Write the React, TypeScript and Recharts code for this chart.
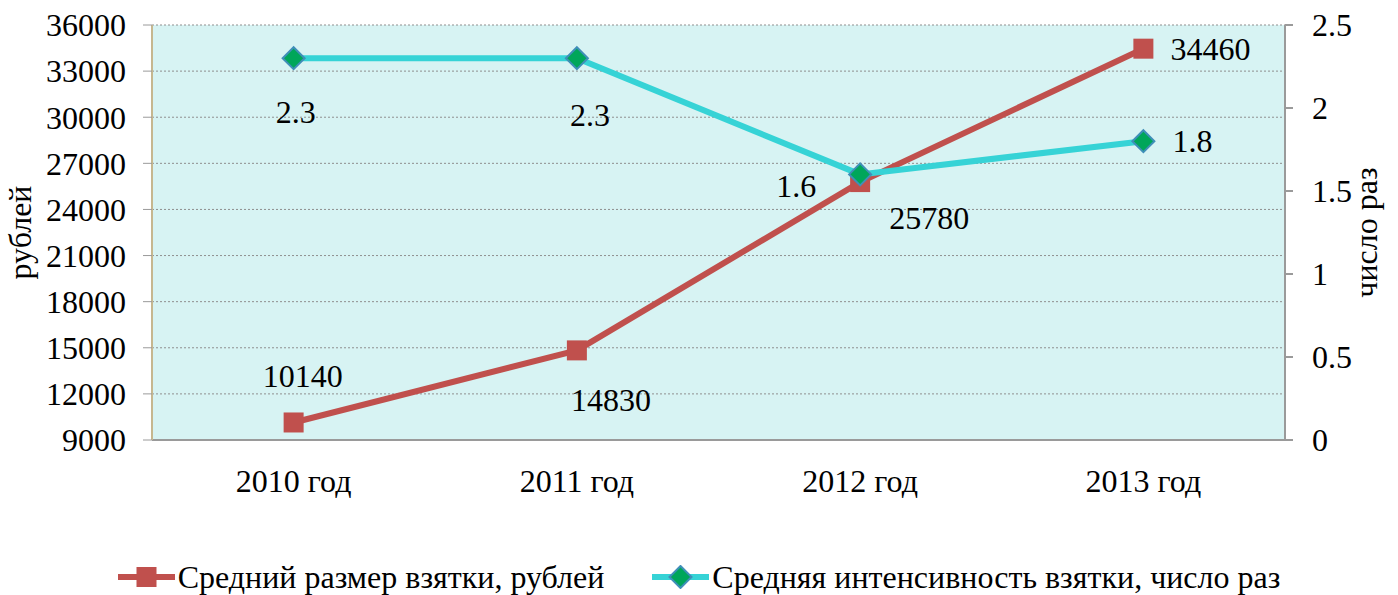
import React from 'react';
import { ComposedChart, Line, XAxis, YAxis, CartesianGrid, Legend, LabelList } from 'recharts';

const years = ['2010 год', '2011 год', '2012 год', '2013 год'];
const bribeSize = [10140, 14830, 25780, 34460];
const bribeIntensity = [2.3, 2.3, 1.6, 1.8];
const leftTicks = [9000, 12000, 15000, 18000, 21000, 24000, 27000, 30000, 33000, 36000];
const rightTicks = [0, 0.5, 1, 1.5, 2, 2.5];
const boundTicks = [0, 1, 2, 3, 4];
const seriesNames = ['Средний размер взятки, рублей', 'Средняя интенсивность взятки, число раз'];
const leftTitle = 'рублей';
const rightTitle = 'число раз';

const data = years.map((year, i) => ({ year, size: bribeSize[i], intensity: bribeIntensity[i] }));

// label placement relative to point (dx, dy)
const sizeLabelOffsets = [[9, -46], [34, 50], [69, 36], [67, 0]];
const intensityLabelOffsets = [[2, 54], [13, 57], [-64, 12], [49, 0]];

const FONT = '"Liberation Serif", "Times New Roman", serif';
const FS = 32;
const RED = '#C0504D';
const CYAN = '#36D3D6';
const GREEN = '#00A65A';
const DIAMOND_STROKE = '#3F8FB8';

const Square = (props: any) => {
  const { cx, cy, index } = props;
  if (cx == null || cy == null) return null;
  return <rect key={`sq-${index}`} x={cx - 10} y={cy - 10} width={20} height={20} fill={RED} />;
};

const Diamond = (props: any) => {
  const { cx, cy, index } = props;
  if (cx == null || cy == null) return null;
  const r = 11;
  return (
    <polygon
      key={`dm-${index}`}
      points={`${cx},${cy - r} ${cx + r},${cy} ${cx},${cy + r} ${cx - r},${cy}`}
      fill={GREEN}
      stroke={DIAMOND_STROKE}
      strokeWidth={2}
    />
  );
};

const makeLabel = (offsets: number[][]) => (props: any) => {
  const { x, y, value, index } = props;
  const o = offsets[index] || [0, 0];
  return (
    <text
      key={`lbl-${index}`}
      x={x + o[0]}
      y={y + o[1]}
      textAnchor="middle"
      dominantBaseline="central"
      fontFamily={FONT}
      fontSize={FS}
      fill="#000"
    >
      {value}
    </text>
  );
};

const XTick = (props: any) => {
  const { x, y, payload } = props;
  return (
    <text x={x} y={y} dy={49} textAnchor="middle" fontFamily={FONT} fontSize={FS} fill="#000">
      {payload.value}
    </text>
  );
};

const LegendIcon = ({ color, marker }: { color: string; marker: 'square' | 'diamond' }) => (
  <svg width={57} height={24} style={{ display: 'block' }}>
    <line x1={0} y1={12} x2={57} y2={12} stroke={color} strokeWidth={6} />
    {marker === 'square' ? (
      <rect x={18.5} y={2} width={20} height={20} fill={RED} />
    ) : (
      <polygon points="28.5,1 39.5,12 28.5,23 17.5,12" fill={GREEN} stroke={DIAMOND_STROKE} strokeWidth={2} />
    )}
  </svg>
);

const renderLegend = () => (
  <div
    style={{
      height: 80,
      display: 'flex',
      justifyContent: 'center',
      alignItems: 'flex-end',
      fontFamily: FONT,
      fontSize: FS,
      color: '#000',
    }}
  >
    <div style={{ display: 'flex', alignItems: 'center', height: 36, marginRight: 48 }}>
      <LegendIcon color={RED} marker="square" />
      <span style={{ marginLeft: 3, whiteSpace: 'nowrap' }}>{seriesNames[0]}</span>
    </div>
    <div style={{ display: 'flex', alignItems: 'center', height: 36 }}>
      <LegendIcon color={CYAN} marker="diamond" />
      <span style={{ marginLeft: 3, whiteSpace: 'nowrap' }}>{seriesNames[1]}</span>
    </div>
  </div>
);

export default function App() {
  return (
    <div style={{ position: 'absolute', left: 0, top: 0, width: 1398, height: 595, background: '#fff' }}>
      <ComposedChart
        width={1398}
        height={595}
        data={data}
        margin={{ top: 25, right: 0, left: 0, bottom: 0 }}
        style={{ fontFamily: FONT }}
      >
        <CartesianGrid
          xAxisId="cat"
          yAxisId="left"
          vertical={false}
          stroke="#8f8f8f"
          strokeDasharray="2 2"
          fill="#D7F3F3"
          fillOpacity={1}
        />
        <XAxis
          xAxisId="bounds"
          type="number"
          domain={[0, 4]}
          ticks={boundTicks}
          allowDataOverflow
          tick={false}
          tickSize={9}
          height={1}
          axisLine={{ stroke: '#9a9a9a', strokeWidth: 2 }}
          tickLine={{ stroke: '#9a9a9a', strokeWidth: 2 }}
        />
        <XAxis
          xAxisId="cat"
          dataKey="year"
          type="category"
          scale="band"
          interval={0}
          axisLine={false}
          tickLine={false}
          tickSize={0}
          height={74}
          tick={<XTick />}
        />
        <YAxis
          yAxisId="left"
          orientation="left"
          width={152}
          domain={[9000, 36000]}
          ticks={leftTicks}
          interval={0}
          tickSize={9}
          tickMargin={17}
          axisLine={{ stroke: '#C6B78F', strokeWidth: 2 }}
          tickLine={{ stroke: '#9a9a9a', strokeWidth: 1 }}
          tick={{ fontFamily: FONT, fontSize: FS, fill: '#000' }}
          label={{ value: leftTitle, angle: -90, position: 'center', dx: -56, fontFamily: FONT, fontSize: FS, fill: '#000' }}
        />
        <YAxis
          yAxisId="right"
          orientation="right"
          width={113}
          domain={[0, 2.5]}
          ticks={rightTicks}
          interval={0}
          tickSize={8}
          tickMargin={19}
          axisLine={{ stroke: '#9a9a9a', strokeWidth: 2 }}
          tickLine={{ stroke: '#9a9a9a', strokeWidth: 2 }}
          tick={{ fontFamily: FONT, fontSize: FS, fill: '#000', textAnchor: 'start' }}
          label={{ value: rightTitle, angle: -90, position: 'center', dx: 24, fontFamily: FONT, fontSize: FS, fill: '#000' }}
        />
        <Line
          xAxisId="cat"
          yAxisId="left"
          type="linear"
          dataKey="size"
          name={seriesNames[0]}
          stroke={RED}
          strokeWidth={6}
          dot={Square}
          activeDot={false}
          isAnimationActive={false}
        >
          <LabelList dataKey="size" content={makeLabel(sizeLabelOffsets)} />
        </Line>
        <Line
          xAxisId="cat"
          yAxisId="right"
          type="linear"
          dataKey="intensity"
          name={seriesNames[1]}
          stroke={CYAN}
          strokeWidth={6}
          dot={Diamond}
          activeDot={false}
          isAnimationActive={false}
        >
          <LabelList dataKey="intensity" content={makeLabel(intensityLabelOffsets)} />
        </Line>
        <Legend verticalAlign="bottom" height={80} content={renderLegend} />
      </ComposedChart>
    </div>
  );
}
